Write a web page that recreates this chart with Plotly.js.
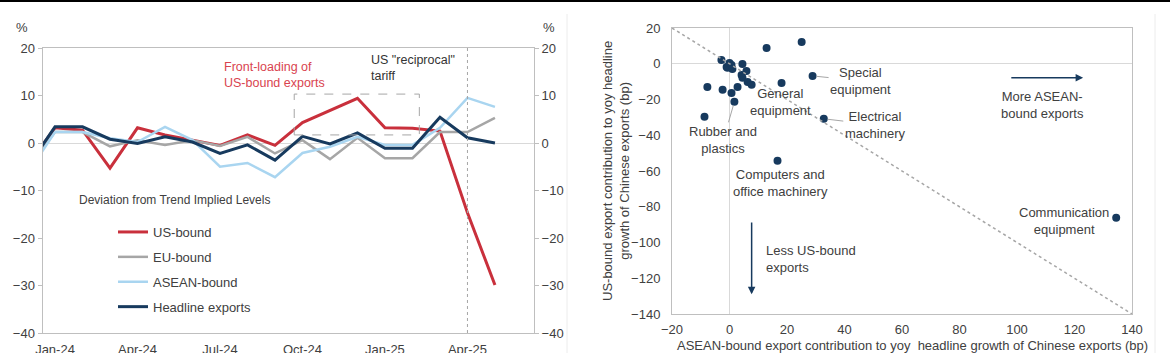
<!DOCTYPE html>
<html>
<head>
<meta charset="utf-8">
<script src="https://cdn.plot.ly/plotly-3.0.1.min.js"></script>
<style>html,body{margin:0;padding:0;background:#fff;}#chart{width:1170px;height:353px;}</style>
</head>
<body>
<div id="chart"></div>
<script>
// ---- Left chart data: deviation from trend implied levels (%) ----
const months = ["Dec-23","Jan-24","Feb-24","Mar-24","Apr-24","May-24","Jun-24","Jul-24","Aug-24","Sep-24","Oct-24","Nov-24","Dec-24","Jan-25","Feb-25","Mar-25","Apr-25","May-25"];
const usBound      = [-4.8, 3.2, 2.7, -5.3, 3.2, 1.7, 0.6, -0.5, 1.7, -0.5, 4.3, 6.8, 9.4, 3.2, 3.1, 2.5, -14.7, -29.9];
const euBound      = [-5.4, 2.3, 2.3, -0.7, 0.6, -0.4, 0.6, -0.6, 1.3, -2.2, 0.6, -3.4, 1.1, -3.2, -3.2, 2.3, 2.3, 5.3];
const aseanBound   = [-6.4, 2.3, 2.3, 1.0, 0.2, 3.4, 0.6, -5.0, -4.2, -7.2, -2.1, -0.8, 1.3, -0.4, -0.4, 3.2, 9.5, 7.6];
const headline     = [-5.1, 3.4, 3.4, 0.8, -0.1, 1.3, 0.2, -2.2, -0.4, -3.6, 1.4, -0.2, 2.1, -1.1, -1.1, 5.4, 1.1, 0.0];
const seriesNames  = ["US-bound","EU-bound","ASEAN-bound","Headline exports"];
const leftTicks    = ["Jan-24","Apr-24","Jul-24","Oct-24","Jan-25","Apr-25"];
const leftYTicks   = [-40, -30, -20, -10, 0, 10, 20];

// ---- Right chart data: contributions (bp) by product ----
const aseanContrib = [-2.8, -1.0, -0.7, 0.0, 0.7, 1.0, 4.5, 5.9, 4.2, 4.5, 6.3, 7.7, 12.9, 25.1, 18.1, 28.9, 32.8, -7.7, -2.4, 0.7, 2.8, 1.7, -8.7, 16.7, 134.5];
const usContrib    = [2.1, -1.8, -2.3, 0.4, -0.7, -2.9, -0.1, -4.0, -6.3, -7.9, -10.2, -11.8, 8.8, 12.2, -10.7, -6.8, -30.8, -13.0, -14.6, -16.3, -13.0, -21.3, -29.7, -54.3, -86.1];
const productLabels = ["","","","","","","","","","","","General<br>equipment","","","","Special<br>equipment","Electrical<br>machinery","","","","","Rubber and<br>plastics","","Computers and<br>office machinery","Communication<br>equipment"];
const rightXTicks = [-20, 0, 20, 40, 60, 80, 100, 120, 140];
const rightYTicks = [-140, -120, -100, -80, -60, -40, -20, 0, 20];

const W = 1170, H = 353;
const FONT = '"Liberation Sans", Arial, sans-serif';
const TXT = '#404040';
const AX = '#bfbfbf';
const colors = ['#c9303c', '#a6a6a6', '#a9d5f0', '#173a5e'];
const widths = [3, 2.5, 2.5, 3];
const px = v => v / W;
const py = v => 1 - v / H;

const leftData = [usBound, euBound, aseanBound, headline];
const traces = leftData.map((vals, i) => ({
  type: 'scatter', mode: 'lines', x: months, y: vals, name: seriesNames[i],
  line: {color: colors[i], width: widths[i]}, xaxis: 'x', yaxis: 'y',
  legendgroup: 'g' + i, hoverinfo: 'skip'
}));
traces.push({
  type: 'scatter', mode: 'markers', x: aseanContrib, y: usContrib, xaxis: 'x2', yaxis: 'y3',
  marker: {color: '#173a5e', size: 8}, showlegend: false, hoverinfo: 'skip'
});

const annotations = [];
function txt(x, y, text, opts) {
  annotations.push(Object.assign({xref: 'paper', yref: 'paper', x: px(x), y: py(y), text: text,
    showarrow: false, font: {family: FONT, size: 13, color: TXT}, xanchor: 'left', yanchor: 'middle'}, opts || {}));
}
txt(22, 28, '%', {xanchor: 'center'});
txt(549, 28, '%', {xanchor: 'center'});
txt(222, 75, 'Front-loading of<br>US-bound exports', {font: {family: FONT, size: 12.5, color: '#d9434f'}, align: 'left'});
txt(369, 68, 'US "reciprocal"<br>tariff', {font: {family: FONT, size: 12.5, color: '#333333'}, align: 'left'});
txt(77, 200, 'Deviation from Trend Implied Levels', {font: {family: FONT, size: 12, color: TXT}});
// right chart axis titles
txt(616, 171, 'US-bound export contribution to yoy headline<br>growth of Chinese exports (bp)', {xanchor: 'center', textangle: -90, align: 'center'});
txt(912, 345, 'ASEAN-bound export contribution to yoy  headline growth of Chinese exports (bp)', {xanchor: 'center'});

// point labels
const labelOffsets = {
  'General<br>equipment': [29, 17, false],
  'Special<br>equipment': [48, 5, true],
  'Electrical<br>machinery': [51, 6, true],
  'Rubber and<br>plastics': [-11, 38, true],
  'Computers and<br>office machinery': [3, 22, false],
  'Communication<br>equipment': [-52, 3, false]
};
productLabels.forEach((lab, i) => {
  if (!lab) return;
  const o = labelOffsets[lab];
  annotations.push({xref: 'x2', yref: 'y3', x: aseanContrib[i], y: usContrib[i], text: lab,
    showarrow: true, arrowhead: 0, arrowwidth: 1, arrowcolor: o[2] ? '#a6a6a6' : 'rgba(0,0,0,0)',
    ax: o[0], ay: o[1], standoff: 4, font: {family: FONT, size: 13, color: TXT}, align: 'center'});
});
// direction arrows
annotations.push({xref: 'x2', yref: 'y3', axref: 'x2', ayref: 'y3', x: 123, y: -7.9, ax: 97.5, ay: -7.9,
  text: '', showarrow: true, arrowhead: 2, arrowsize: 1, arrowwidth: 1.5, arrowcolor: '#173a5e'});
annotations.push({xref: 'x2', yref: 'y3', x: 109, y: -23, text: 'More ASEAN-<br>bound exports', showarrow: false,
  font: {family: FONT, size: 13, color: TXT}, align: 'center'});
annotations.push({xref: 'x2', yref: 'y3', axref: 'x2', ayref: 'y3', x: 7.7, y: -129, ax: 7.7, ay: -88,
  text: '', showarrow: true, arrowhead: 2, arrowsize: 1, arrowwidth: 1.5, arrowcolor: '#173a5e'});
annotations.push({xref: 'x2', yref: 'y3', x: 12, y: -109, text: 'Less US-bound<br>exports', showarrow: false,
  xanchor: 'left', font: {family: FONT, size: 13, color: TXT}, align: 'left'});

const shapes = [
  // front-loading period box
  {type: 'rect', xref: 'x', yref: 'y', x0: 9.7, x1: 14.25, y0: 1.7, y1: 10.3,
   line: {color: '#a6a6a6', width: 1, dash: 'dash'}},
  // reciprocal tariff marker
  {type: 'line', xref: 'x', yref: 'y', x0: 16, x1: 16, y0: -40, y1: 20,
   line: {color: '#a6a6a6', width: 1, dash: 'dot'}},
  // 45-degree reference line
  {type: 'line', xref: 'x2', yref: 'y3', x0: -20, y0: 20, x1: 140, y1: -140,
   line: {color: '#a6a6a6', width: 1.5, dash: 'dot'}},
  // frame bits
  {type: 'rect', xref: 'paper', yref: 'paper', x0: 0, x1: 1, y0: py(2), y1: 1, fillcolor: '#000', line: {width: 0}},
  {type: 'line', xref: 'paper', yref: 'paper', x0: px(567), x1: px(567), y0: 0, y1: py(14), line: {color: '#ececec', width: 1}},
  {type: 'line', xref: 'paper', yref: 'paper', x0: px(1155), x1: px(1155), y0: 0, y1: py(14), line: {color: '#ececec', width: 1}}
];

const tickFont = {family: FONT, size: 13, color: TXT};
const layout = {
  width: W, height: H, margin: {l: 0, r: 0, t: 0, b: 0},
  paper_bgcolor: '#fff', plot_bgcolor: 'rgba(0,0,0,0)',
  font: {family: FONT, color: TXT},
  showlegend: true,
  legend: {x: px(113), xanchor: 'left', y: py(217), yanchor: 'top', bgcolor: 'rgba(0,0,0,0)',
    font: {family: FONT, size: 13, color: TXT}, tracegroupgap: 5, traceorder: 'grouped', itemwidth: 30},
  xaxis: {domain: [px(42.5), px(534)], type: 'category', range: [0.545, 18.42],
    tickvals: leftTicks, ticktext: leftTicks, tickfont: tickFont,
    ticks: 'outside', ticklen: 4, tickcolor: 'rgba(0,0,0,0)',
    showgrid: false, showline: true, linecolor: AX, linewidth: 1, mirror: true, zeroline: false, fixedrange: true},
  yaxis: {domain: [1 - 333 / H, 1 - 48 / H], range: [-40, 20], tickvals: leftYTicks, tickfont: tickFont,
    ticks: 'outside', ticklen: 4, tickcolor: AX, showgrid: false, showline: true, linecolor: AX,
    zeroline: true, zerolinecolor: '#d9d9d9', zerolinewidth: 1, anchor: 'x'},
  yaxis2: {overlaying: 'y', side: 'right', anchor: 'x', range: [-40, 20], tickvals: leftYTicks, tickfont: tickFont,
    ticks: 'outside', ticklen: 4, tickcolor: AX, showgrid: false, showline: true, linecolor: AX, zeroline: false},
  xaxis2: {domain: [px(672), px(1132)], anchor: 'y3', range: [-20, 140], tickvals: rightXTicks, tickfont: tickFont,
    ticks: 'outside', ticklen: 3, tickcolor: 'rgba(0,0,0,0)', showgrid: false, showline: true, linecolor: AX, mirror: true,
    zeroline: true, zerolinecolor: '#d9d9d9', zerolinewidth: 1},
  yaxis3: {domain: [1 - 314 / H, 1 - 28 / H], anchor: 'x2', range: [-140, 20], tickvals: rightYTicks, tickfont: tickFont,
    ticks: 'outside', ticklen: 8, tickcolor: 'rgba(0,0,0,0)', showgrid: false, showline: true, linecolor: AX, mirror: true,
    zeroline: true, zerolinecolor: '#d9d9d9', zerolinewidth: 1},
  annotations: annotations,
  shapes: shapes
};
// keep yaxis2 drawn: attach an invisible, legend-less copy of the headline series
traces.push({type: 'scatter', mode: 'lines', x: months, y: headline, xaxis: 'x', yaxis: 'y2',
  line: {color: 'rgba(0,0,0,0)', width: 0}, showlegend: false, hoverinfo: 'skip'});

Plotly.newPlot('chart', traces, layout, {staticPlot: true, displayModeBar: false});
</script>
</body>
</html>
